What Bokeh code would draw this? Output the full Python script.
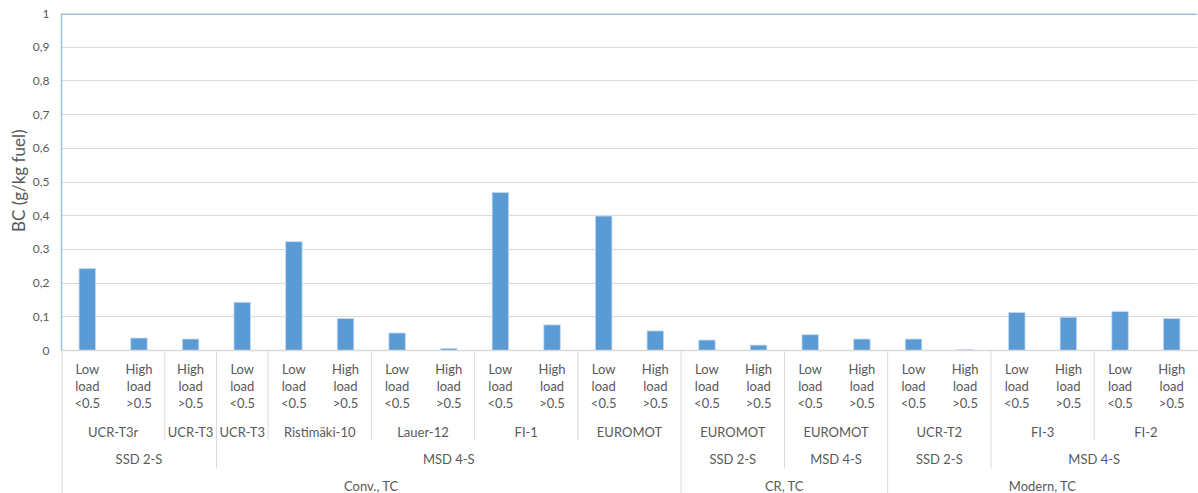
from bokeh.plotting import figure
from bokeh.models import Range1d, FixedTicker, CustomJSTickFormatter, ColumnDataSource, Title
from bokeh.core.properties import value
from bokeh.embed import file_html
from bokeh.resources import INLINE

# ---- data ----
groups = ["Conv., TC"] * 12 + ["CR, TC"] * 4 + ["Modern, TC"] * 6
types = (["SSD 2-S"] * 3 + ["MSD 4-S"] * 9 + ["SSD 2-S"] * 2 + ["MSD 4-S"] * 2
         + ["SSD 2-S"] * 2 + ["MSD 4-S"] * 4)
engines = ["UCR-T3r", "UCR-T3r", "UCR-T3", "UCR-T3", "Ristimäki-10", "Ristimäki-10",
           "Lauer-12", "Lauer-12", "FI-1", "FI-1", "EUROMOT", "EUROMOT",
           "EUROMOT", "EUROMOT", "EUROMOT", "EUROMOT",
           "UCR-T2", "UCR-T2", "FI-3", "FI-3", "FI-2", "FI-2"]
load_level = ["Low", "High", "High", "Low", "Low", "High", "Low", "High", "Low", "High",
              "Low", "High", "Low", "High", "Low", "High", "Low", "High", "Low", "High",
              "Low", "High"]
load_word = "load"
load_thresh = {"Low": "<0.5", "High": ">0.5"}
bc_values = [0.243, 0.037, 0.034, 0.143, 0.323, 0.095, 0.052, 0.006, 0.469, 0.076,
             0.399, 0.058, 0.031, 0.016, 0.047, 0.034, 0.034, 0.003, 0.113, 0.099,
             0.116, 0.095]
y_ticks = [0, 0.1, 0.2, 0.3, 0.4, 0.5, 0.6, 0.7, 0.8, 0.9, 1]
y_title = "BC (g/kg fuel)"

n = len(bc_values)
xs = [i + 0.5 for i in range(n)]

FONT = "Lato"
TXT = "#595959"
GRID = "#D9D9D9"
EDGE = "#9DC3E6"

PLOT_PX = 337.0      # pixel height of the 0..1 value area
AXIS_PX = 143.0      # pixel height of the category label area below it


def below(px):
    """Convert a pixel offset below the value axis into data units."""
    return -px / PLOT_PX


p = figure(width=1198, height=493, x_range=Range1d(0, n),
           y_range=Range1d(below(AXIS_PX), 1),
           output_backend="svg", toolbar_location=None, x_axis_location=None,
           min_border_left=61, min_border_right=1, min_border_top=13, min_border_bottom=0)
p.outline_line_color = None
p.background_fill_color = "white"
p.border_fill_color = "white"
p.xgrid.visible = False
p.ygrid.ticker = FixedTicker(ticks=y_ticks)
p.ygrid.grid_line_color = GRID
p.yaxis.ticker = FixedTicker(ticks=y_ticks)
p.yaxis.bounds = (0, 1)
p.yaxis.formatter = CustomJSTickFormatter(
    code="return tick === 0 ? '0' : (tick >= 0.999 ? '1' : tick.toFixed(1).replace('.', ','));")
p.yaxis.axis_line_color = EDGE
p.yaxis.axis_line_width = 1.5
p.yaxis.major_tick_line_color = None
p.yaxis.minor_tick_line_color = None
p.yaxis.major_tick_out = 0
p.yaxis.major_tick_in = 0
p.yaxis.minor_tick_out = 0
p.yaxis.minor_tick_in = 0
p.yaxis.major_label_text_color = TXT
p.yaxis.major_label_text_font = FONT
p.yaxis.major_label_text_font_size = "12px"
p.yaxis.major_label_standoff = 12

# y-axis title placed beside the 0..1 value span (top end ~ 116 px below frame top)
p.add_layout(Title(text=y_title, align="right", offset=116, standoff=2,
                   text_font=FONT, text_font_size="17px", text_font_style="normal",
                   text_color=TXT), "left")

src = ColumnDataSource(dict(x=xs, top=bc_values))
p.vbar(x="x", top="top", width=0.32, source=src, fill_color="#5B9BD5",
       line_color="#C5DCF0", line_width=0.8)
p.segment(x0=[0], y0=[1], x1=[n], y1=[1], line_color=EDGE, line_width=3)
p.segment(x0=[0], y0=[0], x1=[n], y1=[0], line_color=GRID, line_width=1.5)


def runs(keys):
    out = []
    start = 0
    for i in range(1, len(keys) + 1):
        if i == len(keys) or keys[i] != keys[start]:
            out.append((start, i))
            start = i
    return out


eng_runs = runs(list(zip(groups, types, engines)))
type_runs = runs(list(zip(groups, types)))
grp_runs = runs(groups)

grp_starts = {s for s, e in grp_runs}
type_starts = {s for s, e in type_runs}
x0s, y1s = [], []
for s, e in eng_runs:
    if s in grp_starts:
        y1s.append(below(AXIS_PX))
    elif s in type_starts:
        y1s.append(below(118))
    else:
        y1s.append(below(90))
    x0s.append(s)
p.segment(x0=x0s, y0=[0] * len(x0s), x1=x0s, y1=y1s, line_color=GRID,
          line_width=[2 if x == 0 else 1 for x in x0s])

common = dict(text_align="center", text_baseline="middle", text_color=TXT,
              text_font=value(FONT), text_font_size="13px")
p.text(x=xs, y=[below(18)] * n, text=load_level, **common)
p.text(x=xs, y=[below(35)] * n, text=[load_word] * n, **common)
p.text(x=xs, y=[below(52)] * n, text=[load_thresh[l] for l in load_level], **common)
p.text(x=[(s + e) / 2 for s, e in eng_runs], y=[below(81)] * len(eng_runs),
       text=[engines[s] for s, e in eng_runs], **common)
p.text(x=[(s + e) / 2 for s, e in type_runs], y=[below(108)] * len(type_runs),
       text=[types[s] for s, e in type_runs], **common)
p.text(x=[(s + e) / 2 for s, e in grp_runs], y=[below(135)] * len(grp_runs),
       text=[groups[s] for s, e in grp_runs], **common)

open("out.html", "w").write(file_html(p, INLINE))
